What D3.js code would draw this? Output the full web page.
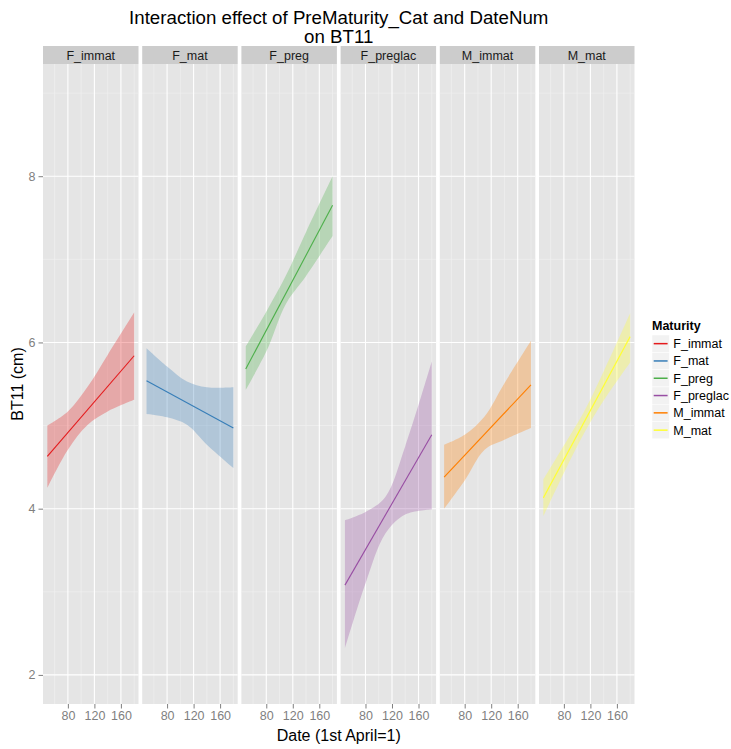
<!DOCTYPE html>
<html>
<head>
<meta charset="utf-8">
<script src="https://cdn.jsdelivr.net/npm/d3@7"></script>
<style>
  body { margin: 0; background: #fff; }
  svg { font-family: "Liberation Sans", Arial, sans-serif; }
</style>
</head>
<body>
<svg id="chart" width="731" height="749"></svg>
<script>
// categories (facets) and their colours
const maturity = ["F_immat", "F_mat", "F_preg", "F_preglac", "M_immat", "M_mat"];
const palette = ["#E41A1C", "#377EB8", "#4DAF4A", "#984EA3", "#FF7F00", "#FFFF33"];

const dateKnots = [49, 80, 110, 140, 180];

// fitted line: value at first and last date
const fitStart = [4.63, 5.54, 5.68, 3.08, 4.38, 4.13];
const fitEnd   = [5.84, 4.97, 7.65, 4.89, 5.49, 6.07];

// confidence band, one row per category, one value per date knot
const bandUpper = [
    [5.00, 5.17, 5.47, 5.85, 6.36],
    [5.93, 5.71, 5.53, 5.46, 5.46],
    [5.95, 6.37, 6.81, 7.33, 8.00],
    [3.86, 3.96, 4.14, 4.75, 5.77],
    [4.77, 4.89, 5.11, 5.51, 6.02],
    [4.35, 4.76, 5.16, 5.65, 6.35]
];
const bandLower = [
    [4.25, 4.71, 5.01, 5.17, 5.31],
    [5.14, 5.10, 5.01, 4.77, 4.49],
    [5.43, 5.89, 6.47, 6.80, 7.28],
    [2.32, 3.10, 3.70, 3.93, 3.99],
    [4.00, 4.34, 4.71, 4.83, 4.97],
    [3.91, 4.43, 4.90, 5.30, 5.76]
];

const xTicks = [80, 120, 160];
const xMinor = [60, 100, 140, 180];
const yTicks = [2, 4, 6, 8];
const yMinor = [3, 5, 7, 9];
const xData = [49, 180];
const yData = [2, 9];

const title = ["Interaction effect of PreMaturity_Cat and DateNum", "on BT11"];
const xLabel = "Date (1st April=1)";
const yLabel = "BT11 (cm)";
const legendTitle = "Maturity";

// layout
const width = 731, height = 749;
const panel_left = 43, panel_w = 95.5, panel_gap = 3.7;
const panel_top = 64, panel_bottom = 704, strip_h = 18;

const svg = d3.select("#chart");

function expand([a, b]) {
    const d = (b - a) * 0.05;
    return [a - d, b + d];
}

const x = d3.scaleLinear().domain(expand(xData)).range([0, panel_w]);
const y = d3.scaleLinear().domain(expand(yData)).range([panel_bottom, panel_top]);

const panels = svg.append("g")
    .selectAll("g")
    .data(maturity)
    .join("g")
    .attr("transform", (d, i) => `translate(${panel_left + i * (panel_w + panel_gap)},0)`);

// strip
panels.append("rect")
    .attr("y", panel_top - strip_h)
    .attr("width", panel_w)
    .attr("height", strip_h)
    .attr("fill", "#CCCCCC");
panels.append("text")
    .attr("x", panel_w / 2)
    .attr("y", panel_top - strip_h / 2)
    .attr("dy", "0.36em")
    .attr("text-anchor", "middle")
    .attr("font-size", 12.5)
    .attr("fill", "#1A1A1A")
    .text(d => d);

// background + grid
panels.append("rect")
    .attr("y", panel_top)
    .attr("width", panel_w)
    .attr("height", panel_bottom - panel_top)
    .attr("fill", "#E5E5E5");

panels.each(function() {
    const g = d3.select(this);
    g.selectAll(".xminor").data(xMinor).join("line")
        .attr("x1", d => x(d)).attr("x2", d => x(d))
        .attr("y1", panel_top).attr("y2", panel_bottom)
        .attr("stroke", "#F2F2F2").attr("stroke-width", 0.6);
    g.selectAll(".yminor").data(yMinor).join("line")
        .attr("x1", 0).attr("x2", panel_w)
        .attr("y1", d => y(d)).attr("y2", d => y(d))
        .attr("stroke", "#F2F2F2").attr("stroke-width", 0.6);
    g.selectAll(".xmajor").data(xTicks).join("line")
        .attr("x1", d => x(d)).attr("x2", d => x(d))
        .attr("y1", panel_top).attr("y2", panel_bottom)
        .attr("stroke", "#FFFFFF").attr("stroke-width", 1.1);
    g.selectAll(".ymajor").data(yTicks).join("line")
        .attr("x1", 0).attr("x2", panel_w)
        .attr("y1", d => y(d)).attr("y2", d => y(d))
        .attr("stroke", "#FFFFFF").attr("stroke-width", 1.1);
});

// ribbons and fitted lines
const area = d3.area()
    .curve(d3.curveCatmullRom.alpha(0.5))
    .x(d => x(d.date))
    .y0(d => y(d.lo))
    .y1(d => y(d.hi));

const line = d3.line()
    .x(d => x(d[0]))
    .y(d => y(d[1]));

panels.append("path")
    .attr("d", (d, i) => area(dateKnots.map((date, k) => ({
        date: date, lo: bandLower[i][k], hi: bandUpper[i][k]
    }))))
    .attr("fill", (d, i) => palette[i])
    .attr("fill-opacity", 0.3);

panels.append("path")
    .attr("d", (d, i) => line([[xData[0], fitStart[i]], [xData[1], fitEnd[i]]]))
    .attr("fill", "none")
    .attr("stroke", (d, i) => palette[i])
    .attr("stroke-width", 1.1);

// x axes
panels.append("g")
    .attr("transform", `translate(0,${panel_bottom})`)
    .call(d3.axisBottom(x).tickValues(xTicks).tickSize(4.5).tickSizeOuter(0).tickPadding(3))
    .call(g => g.select(".domain").remove())
    .call(g => g.selectAll(".tick line").attr("stroke", "#7F7F7F"))
    .call(g => g.selectAll(".tick text")
        .attr("font-size", 12.5)
        .attr("font-family", "Liberation Sans, Arial, sans-serif")
        .attr("fill", "#7F7F7F"));

// y axis
svg.append("g")
    .attr("transform", `translate(${panel_left},0)`)
    .call(d3.axisLeft(y).tickValues(yTicks).tickSize(4.5).tickSizeOuter(0).tickPadding(3))
    .call(g => g.select(".domain").remove())
    .call(g => g.selectAll(".tick line").attr("stroke", "#7F7F7F"))
    .call(g => g.selectAll(".tick text")
        .attr("font-size", 12.5)
        .attr("font-family", "Liberation Sans, Arial, sans-serif")
        .attr("fill", "#7F7F7F"));

const panel_right = panel_left + maturity.length * panel_w + (maturity.length - 1) * panel_gap;
const cx = (panel_left + panel_right) / 2;

// title
svg.append("g")
    .selectAll("text")
    .data(title)
    .join("text")
    .attr("x", cx)
    .attr("y", (d, i) => 23.5 + i * 19.5)
    .attr("text-anchor", "middle")
    .attr("font-size", 18.7)
    .attr("fill", "#000")
    .text(d => d);

// axis titles
svg.append("text")
    .attr("x", cx)
    .attr("y", 741)
    .attr("text-anchor", "middle")
    .attr("font-size", 16)
    .attr("fill", "#000")
    .text(xLabel);

svg.append("text")
    .attr("transform", `translate(23,${(panel_top + panel_bottom) / 2}) rotate(-90)`)
    .attr("text-anchor", "middle")
    .attr("font-size", 16)
    .attr("fill", "#000")
    .text(yLabel);

// legend
const legend = svg.append("g").attr("transform", "translate(652,335)");
legend.append("text")
    .attr("y", -5)
    .attr("font-size", 12.5)
    .attr("font-weight", "bold")
    .text(legendTitle);

const key_size = 17.3;
const items = legend.selectAll(".item")
    .data(maturity)
    .join("g")
    .attr("transform", (d, i) => `translate(0,${i * key_size})`);
items.append("rect")
    .attr("width", key_size)
    .attr("height", key_size)
    .attr("fill", "#F2F2F2")
    .attr("stroke", "#FFFFFF")
    .attr("stroke-width", 0.5);
items.append("line")
    .attr("x1", 1.7).attr("x2", key_size - 1.7)
    .attr("y1", key_size / 2).attr("y2", key_size / 2)
    .attr("stroke", (d, i) => palette[i])
    .attr("stroke-width", 1.5);
items.append("text")
    .attr("x", key_size + 4)
    .attr("y", key_size / 2)
    .attr("dy", "0.36em")
    .attr("font-size", 12.5)
    .attr("fill", "#000")
    .text(d => d);
</script>
</body>
</html>
